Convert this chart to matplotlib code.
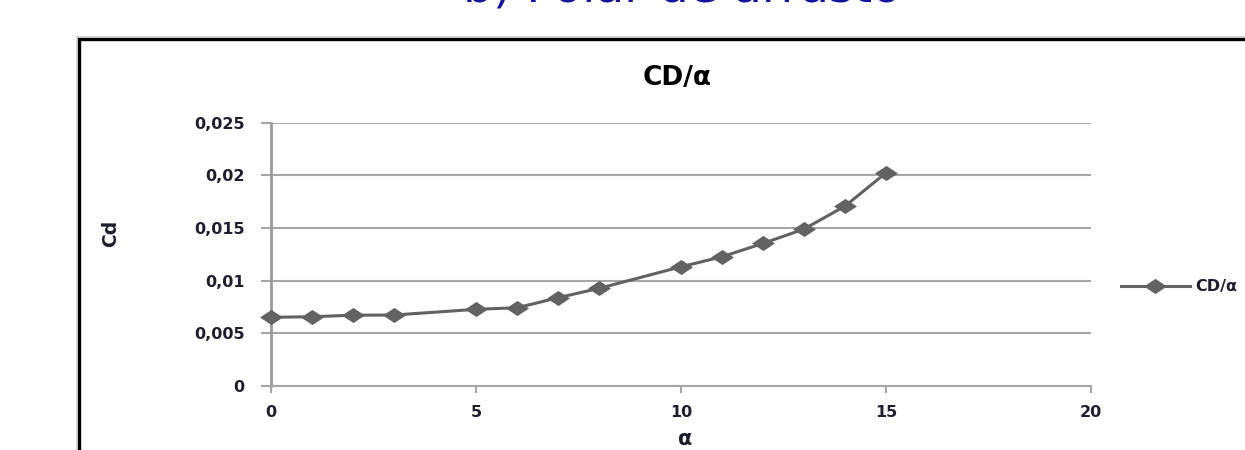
import matplotlib
matplotlib.use("Agg")
import matplotlib.pyplot as plt
from matplotlib.path import Path
from matplotlib.patches import Rectangle

# Drag coefficient vs angle of attack
alpha = [0, 1, 2, 3, 5, 6, 7, 8, 10, 11, 12, 13, 14, 15]
cd = [0.00652, 0.00658, 0.00672, 0.00674, 0.00728, 0.00743, 0.00838, 0.00927,
      0.01132, 0.01227, 0.01354, 0.01490, 0.01708, 0.02024]
x_ticks = [0, 5, 10, 15, 20]
y_ticks = [0, 0.005, 0.01, 0.015, 0.02, 0.025]
y_tick_labels = ["0", "0,005", "0,01", "0,015", "0,02", "0,025"]
series_name = "CD/\u03b1"

W, H, DPI = 1245, 450, 100
fig = plt.figure(figsize=(W / DPI, H / DPI), dpi=DPI)
fig.patch.set_facecolor("white")

def fx(px):
    return px / W

def fy(py):
    return 1 - py / H

# Section heading above the chart (runs off the top of the page)
fig.text(fx(682), fy(2), "b) Polar de arrasto", color="#14149a",
         fontsize=34, ha="center", va="baseline", family="DejaVu Sans")

# Chart frame
fig.patches.append(Rectangle((fx(79), fy(470)), fx(1300 - 79), fy(39) - fy(470),
                             transform=fig.transFigure, fill=False,
                             edgecolor="#c8c8c8", linewidth=4.0, zorder=0))
fig.patches.append(Rectangle((fx(79), fy(470)), fx(1300 - 79), fy(39) - fy(470),
                             transform=fig.transFigure, fill=False,
                             edgecolor="black", linewidth=2.2, zorder=1))

ax = fig.add_axes([fx(271), fy(386), fx(1091 - 271), fy(122.7) - fy(386)])
ax.set_facecolor("none")

# wide diamond marker
diamond = Path([(-1, 0), (0, 0.66), (1, 0), (0, -0.66), (-1, 0)],
               [Path.MOVETO, Path.LINETO, Path.LINETO, Path.LINETO, Path.CLOSEPOLY])

line_color = "#626262"
ax.plot(alpha, cd, color=line_color, linewidth=2.2, marker=diamond,
        markersize=16.5, markeredgewidth=0, markerfacecolor=line_color,
        label=series_name, zorder=3, clip_on=False)

ax.set_xlim(0, 20)
ax.set_ylim(0, 0.025)
ax.set_xticks(x_ticks)
ax.set_xticklabels([str(v) for v in x_ticks])
ax.set_yticks(y_ticks)
ax.set_yticklabels(y_tick_labels)

grid_color = "#a6a6a6"
ax.grid(axis="y", color=grid_color, linewidth=1.5)
ax.set_axisbelow(True)
for side in ("top", "right"):
    ax.spines[side].set_visible(False)
ax.spines["left"].set_color("#9a9a9a")
ax.spines["left"].set_linewidth(2.0)
ax.spines["bottom"].set_color(grid_color)
ax.spines["bottom"].set_linewidth(1.5)

tick_color = "#1e1e2e"
ax.tick_params(axis="y", direction="out", length=7, width=1.5, color=grid_color,
               labelsize=11.5, labelcolor=tick_color, pad=12)
ax.tick_params(axis="x", direction="out", length=5, width=1.5, color=grid_color,
               labelsize=11.5, labelcolor=tick_color, pad=9)
for lbl in ax.get_xticklabels() + ax.get_yticklabels():
    lbl.set_fontweight("semibold")

ax.set_xlabel("\u03b1", fontsize=15, fontweight="bold", color=tick_color,
              va="center")
ax.xaxis.set_label_coords((685 - 271) / 820, (386 - 439) / 263.3)
ax.set_ylabel("Cd", fontsize=13.5, fontweight="bold", color=tick_color)
ax.yaxis.set_label_coords((120 - 271) / 820, (386 - 233) / 263.3)

fig.text(fx(677), fy(78), "CD/\u03b1", fontsize=19, fontweight="bold",
         color="black", ha="center", va="center")

leg = ax.legend(loc="center left", bbox_to_anchor=((1121 - 271) / 820, (386 - 287) / 263.3),
                frameon=False, fontsize=11.5, handlelength=4.3, handletextpad=0.35,
                borderaxespad=0, borderpad=0)
for t in leg.get_texts():
    t.set_color(tick_color)
    t.set_fontweight("semibold")

fig.savefig("out.png", dpi=DPI)
